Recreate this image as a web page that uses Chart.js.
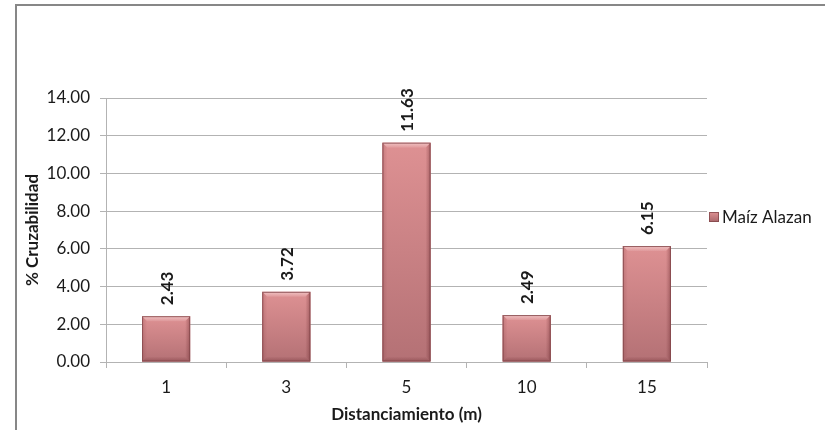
<!DOCTYPE html>
<html>
<head>
<meta charset="utf-8">
<script src="https://cdn.jsdelivr.net/npm/chart.js@4/dist/chart.umd.min.js"></script>
<style>
  html, body { margin: 0; padding: 0; background: #fff; }
  #wrap { width: 825px; height: 430px; }
</style>
</head>
<body>
<div id="wrap"><canvas id="c" width="825" height="430"></canvas></div>
<script>
// Distances (m) and cross-pollination percentage for the maize variety
const categories = ['1', '3', '5', '10', '15'];
const seriesName = 'Maíz Alazan';
const cruzabilidad = [2.43, 3.72, 11.63, 2.49, 6.15];
const yTicks = [0, 2, 4, 6, 8, 10, 12, 14];

const FONT = 'Lato, "Open Sans", sans-serif';
const TEXT = '#1a1a1a';
const GRID = '#b3b3b3';

// Outer frame (top and left edges of the chart border) on a white background
const framePlugin = {
  id: 'frame',
  beforeDraw(chart) {
    const ctx = chart.ctx;
    ctx.save();
    ctx.fillStyle = '#ffffff';
    ctx.fillRect(0, 0, chart.width, chart.height);
    ctx.strokeStyle = '#878787';
    ctx.lineWidth = 2;
    ctx.beginPath();
    ctx.moveTo(16, chart.height);
    ctx.lineTo(16, 5);
    ctx.lineTo(chart.width, 5);
    ctx.stroke();
    ctx.restore();
  }
};

// Soft bevelled shading on top of each bar plus the rotated value labels
const barStylePlugin = {
  id: 'barStyle',
  afterDatasetsDraw(chart) {
    const ctx = chart.ctx;
    const meta = chart.getDatasetMeta(0);
    meta.data.forEach((bar, i) => {
      const { x, y, base, width } = bar.getProps(['x', 'y', 'base', 'width'], true);
      const l = x - width / 2, r = x + width / 2;
      const h = base - y;
      const b = Math.min(5, h / 3);
      ctx.save();
      // body gradient
      const g = ctx.createLinearGradient(0, y, 0, base);
      g.addColorStop(0, '#de9193');
      g.addColorStop(1, '#b47175');
      ctx.fillStyle = g;
      ctx.fillRect(l, y, width, h);
      // top bevel (light, fading downwards)
      const gt = ctx.createLinearGradient(0, y, 0, y + b);
      gt.addColorStop(0, 'rgba(255,235,235,0.55)');
      gt.addColorStop(1, 'rgba(255,235,235,0.1)');
      ctx.fillStyle = gt;
      ctx.beginPath();
      ctx.moveTo(l, y); ctx.lineTo(r, y); ctx.lineTo(r - b, y + b); ctx.lineTo(l + b, y + b);
      ctx.closePath(); ctx.fill();
      // left bevel
      const gl = ctx.createLinearGradient(l, 0, l + b, 0);
      gl.addColorStop(0, 'rgba(130,60,65,0.25)');
      gl.addColorStop(1, 'rgba(130,60,65,0.0)');
      ctx.fillStyle = gl;
      ctx.beginPath();
      ctx.moveTo(l, y); ctx.lineTo(l + b, y + b); ctx.lineTo(l + b, base - b); ctx.lineTo(l, base);
      ctx.closePath(); ctx.fill();
      // right bevel
      const gr = ctx.createLinearGradient(r, 0, r - b, 0);
      gr.addColorStop(0, 'rgba(100,35,40,0.4)');
      gr.addColorStop(1, 'rgba(100,35,40,0.0)');
      ctx.fillStyle = gr;
      ctx.beginPath();
      ctx.moveTo(r, y); ctx.lineTo(r - b, y + b); ctx.lineTo(r - b, base - b); ctx.lineTo(r, base);
      ctx.closePath(); ctx.fill();
      // bottom bevel
      const gb = ctx.createLinearGradient(0, base, 0, base - b);
      gb.addColorStop(0, 'rgba(100,35,40,0.35)');
      gb.addColorStop(1, 'rgba(100,35,40,0.0)');
      ctx.fillStyle = gb;
      ctx.beginPath();
      ctx.moveTo(l, base); ctx.lineTo(r, base); ctx.lineTo(r - b, base - b); ctx.lineTo(l + b, base - b);
      ctx.closePath(); ctx.fill();
      // outline
      ctx.strokeStyle = 'rgba(130,70,74,0.8)';
      ctx.lineWidth = 1;
      ctx.strokeRect(l + 0.5, y + 0.5, width - 1, h - 1);
      ctx.restore();

      // value label, rotated, reading bottom to top
      ctx.save();
      ctx.translate(x, y - 11);
      ctx.rotate(-Math.PI / 2);
      ctx.font = 'bold 17px ' + FONT;
      ctx.fillStyle = TEXT;
      ctx.textAlign = 'left';
      ctx.textBaseline = 'middle';
      ctx.fillText(cruzabilidad[i].toFixed(2), 0, 1);
      ctx.restore();
    });
  }
};

// Legend on the right of the plot
const legendPlugin = {
  id: 'sideLegend',
  afterDraw(chart) {
    const ctx = chart.ctx;
    const area = chart.chartArea;
    const ly = 217;
    const lx = area.right + 2;
    ctx.save();
    const g = ctx.createLinearGradient(0, ly - 5, 0, ly + 5);
    g.addColorStop(0, '#de9193');
    g.addColorStop(1, '#a9666a');
    ctx.fillStyle = g;
    ctx.fillRect(lx, ly - 5, 10, 10);
    ctx.strokeStyle = 'rgba(130,70,74,0.8)';
    ctx.lineWidth = 1;
    ctx.strokeRect(lx + 0.5, ly - 4.5, 9, 9);
    ctx.font = '17px ' + FONT;
    ctx.fillStyle = TEXT;
    ctx.textAlign = 'left';
    ctx.textBaseline = 'middle';
    ctx.fillText(seriesName, lx + 13, ly + 1);
    ctx.restore();
  }
};

new Chart(document.getElementById('c'), {
  type: 'bar',
  data: {
    labels: categories,
    datasets: [{
      label: seriesName,
      data: cruzabilidad,
      backgroundColor: '#c98084',
      borderWidth: 0,
      categoryPercentage: 1.0,
      barPercentage: 0.4
    }]
  },
  options: {
    responsive: false,
    animation: false,
    devicePixelRatio: 1,
    layout: { padding: { left: 0, top: 98, right: 118, bottom: 0 } },
    plugins: {
      legend: { display: false },
      tooltip: { enabled: false }
    },
    scales: {
      x: {
        afterFit(scale) { scale.height = 68; },
        grid: {
          display: true,
          drawOnChartArea: false,
          drawTicks: true,
          tickLength: 6,
          color: GRID
        },
        border: { display: true, color: GRID, width: 1 },
        ticks: {
          color: TEXT,
          font: { family: FONT, size: 17 },
          padding: 9,
          maxRotation: 0
        },
        title: {
          display: true,
          text: 'Distanciamiento (m)',
          color: TEXT,
          font: { family: FONT, size: 17, weight: 'bold' },
          padding: { top: 0, bottom: 5 }
        }
      },
      y: {
        min: 0,
        max: 14,
        afterFit(scale) { scale.width = 106; },
        afterBuildTicks(scale) { scale.ticks = yTicks.map(v => ({ value: v })); },
        grid: {
          color: GRID,
          drawTicks: true,
          tickLength: 6
        },
        border: { display: true, color: GRID, width: 1 },
        ticks: {
          color: TEXT,
          font: { family: FONT, size: 17 },
          padding: 10,
          callback: v => Number(v).toFixed(2)
        },
        title: {
          display: true,
          text: '% Cruzabilidad',
          color: TEXT,
          font: { family: FONT, size: 17, weight: 'bold' },
          padding: { top: 22, bottom: 0 }
        }
      }
    }
  },
  plugins: [framePlugin, barStylePlugin, legendPlugin]
});
</script>
</body>
</html>
